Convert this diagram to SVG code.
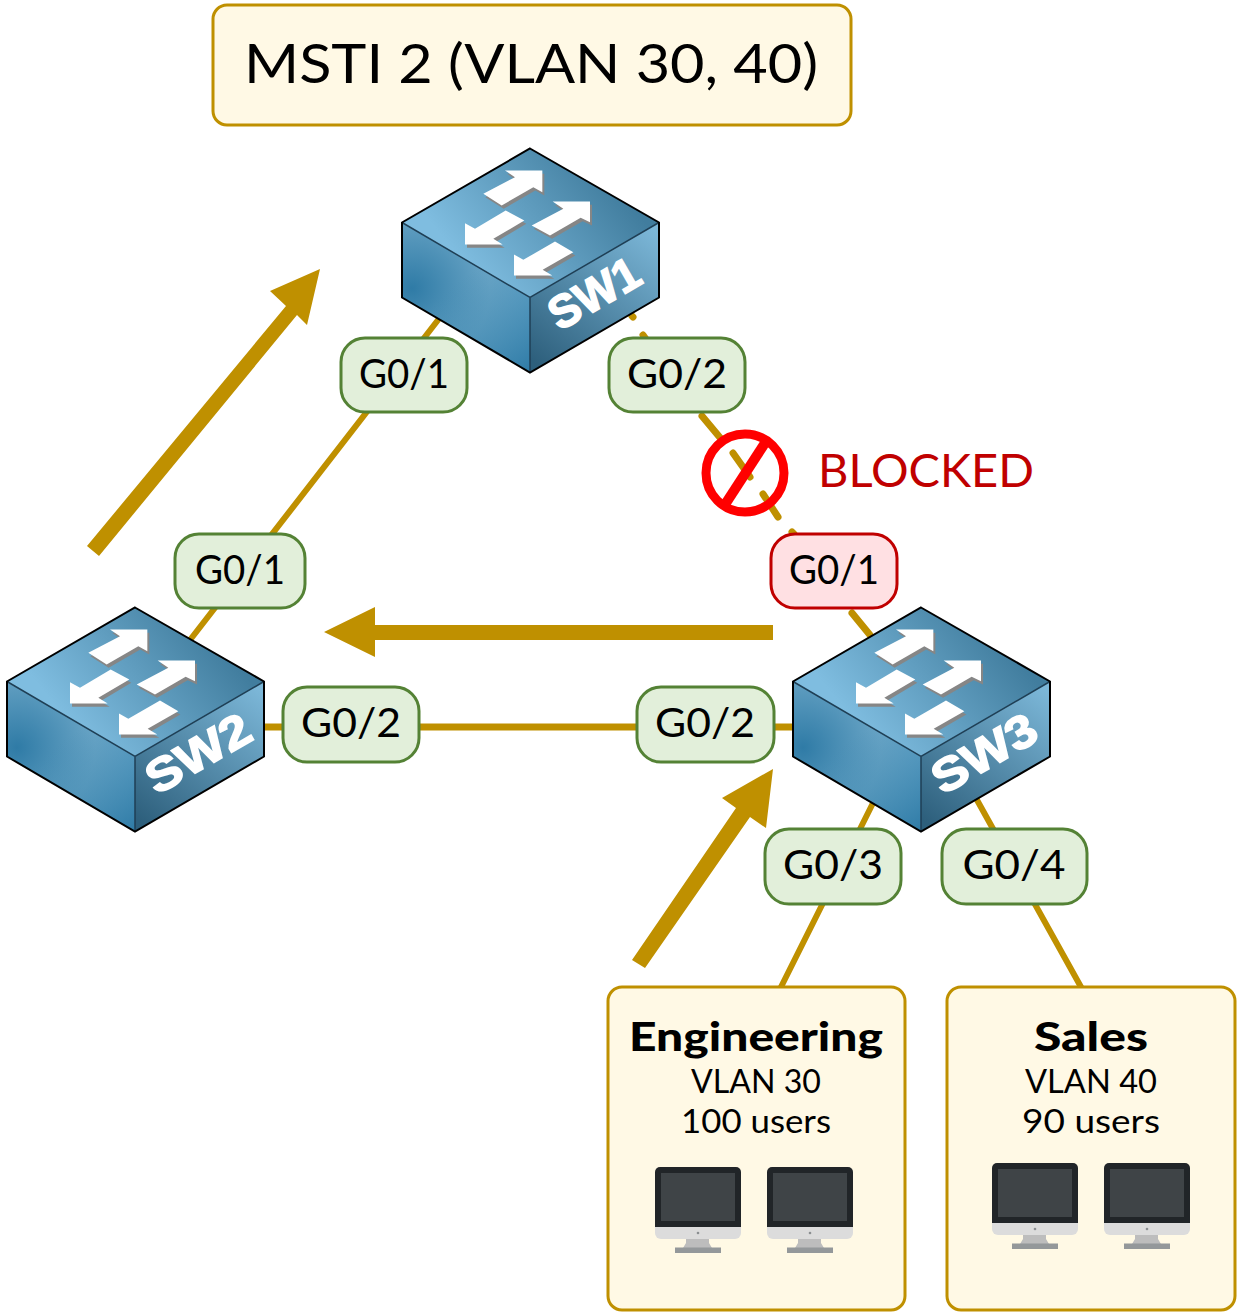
<svg xmlns="http://www.w3.org/2000/svg" xmlns:xlink="http://www.w3.org/1999/xlink" width="1238" height="1313" viewBox="0 0 1238 1313">
<style>
text{font-family:"Lato","Noto Sans",sans-serif;fill:#000}
.lbl{font-size:41px;text-anchor:middle}
.g{fill:#e2efda;stroke:#548235;stroke-width:3}
.r{fill:#ffe0e3;stroke:#c00000;stroke-width:3}
.box{fill:#fff9e5;stroke:#bf9000;stroke-width:3}
.ln{stroke:#bf9000;stroke-width:7;fill:none;stroke-linecap:round}
.big{fill:#bf9000;stroke:none}
.sw{font-size:46px;font-weight:900;fill:#fff;stroke:#fff;stroke-width:1.6;text-anchor:middle;font-family:"Liberation Sans",sans-serif}
.sub{font-size:32px;text-anchor:middle}
.hd{font-size:40px;font-weight:900;text-anchor:middle}
</style>
<defs>
<linearGradient id="top" gradientUnits="userSpaceOnUse" x1="70" y1="125" x2="200" y2="20"><stop offset="0" stop-color="#7fbde0"/><stop offset="1" stop-color="#417d9e"/></linearGradient>
<radialGradient id="left" gradientUnits="userSpaceOnUse" cx="10" cy="140" r="130"><stop offset="0" stop-color="#2f7ba6"/><stop offset=".6" stop-color="#6aa5c6"/><stop offset="1" stop-color="#6aa8cc"/></radialGradient>
<linearGradient id="leftb" gradientUnits="userSpaceOnUse" x1="60" y1="130" x2="128" y2="224"><stop offset="0" stop-color="#3f8ab2" stop-opacity="0"/><stop offset="1" stop-color="#2f7ba6"/></linearGradient>
<linearGradient id="right" gradientUnits="userSpaceOnUse" x1="250" y1="80" x2="140" y2="220"><stop offset="0" stop-color="#7cb7d8"/><stop offset="1" stop-color="#2d5f7c"/></linearGradient>
<g id="swi">
<path d="M128,0L257,74V149L128,224L0,149V74Z" fill="#4f8fb3"/>
<path d="M0,74L128,149V224L0,149Z" fill="url(#left)"/>
<path d="M0,74L128,149V224L0,149Z" fill="url(#leftb)"/>
<path d="M128,149L257,74V149L128,224Z" fill="url(#right)"/>
<path d="M128,0L257,74L128,149L0,74Z" fill="url(#top)"/>
<path d="M0,74L128,149L257,74M128,149V224" fill="none" stroke="#1f3f55" stroke-width="1.5"/>
<path d="M128,0L257,74V149L128,224L0,149V74Z" fill="none" stroke="#000" stroke-width="2"/>
<g transform="translate(-12,-8) scale(.33333)">
<g fill="#868686" transform="translate(6,10)">
<path d="M280,160L375,110L345,90H457V155L430,140L335,195Z"/>
<path d="M225,248L255,265L347,210L403,240L310,295L338,312H225Z"/>
<path d="M425,255L520,205L488,183H600V245L572,232L480,285Z"/>
<path d="M372,342L400,358L495,303L550,335L458,388L487,405H372Z"/>
</g>
<g fill="#fff">
<path d="M280,160L375,110L345,90H457V155L430,140L335,195Z"/>
<path d="M225,248L255,265L347,210L403,240L310,295L338,312H225Z"/>
<path d="M425,255L520,205L488,183H600V245L572,232L480,285Z"/>
<path d="M372,342L400,358L495,303L550,335L458,388L487,405H372Z"/>
</g>
</g>
</g>
<g id="mon">
<path d="M5,0H81a5,5 0 0 1 5,5V60H0V5a5,5 0 0 1 5,-5Z" fill="#212528"/>
<rect x="6" y="6" width="74" height="48" fill="#3f4447"/>
<path d="M0,60H86V66a6,6 0 0 1 -6,6H6a6,6 0 0 1 -6,-6Z" fill="#dcdcdc"/>
<circle cx="43" cy="66" r="1.3" fill="#8b8f91"/>
<path d="M31,72H54V76L57,81H28L31,76Z" fill="#bdbdbd"/>
<rect x="20" y="80.5" width="46" height="5.5" fill="#94989a"/>
</g>
</defs>
<rect width="1238" height="1313" fill="#fff"/>
<g id="connectors">
<path class="ln" style="stroke-width:6" d="M190,640L438,320"/>
<path class="ln" d="M632,316L633,317M643,335L648,342M702,416L722,440M733,453L750,477M763,494L778,517M792,532L794,534M852,613L870,635"/>
<path class="ln" d="M264,727H793"/>
<path class="ln" style="stroke-width:6" d="M873,803L781,987M977,800L1081,987"/>
<path id="arrow-sw2-sw1" class="big" d="M87,546L286,306L270,291L320,269L307,325L297,315L99,556Z"/>
<path id="arrow-sw3-sw2" class="big" d="M324,632L375,607V625H773V640H375V657Z"/>
<path id="arrow-host-sw3" class="big" d="M632,960L736,808L722,798L773,769L766,828L750,817L645,968Z"/>
</g>
<g id="title"><rect class="box" x="213" y="5" width="638" height="120" rx="14"/><text x="244" y="83" font-size="55" textLength="574" lengthAdjust="spacingAndGlyphs">MSTI 2 (VLAN 30, 40)</text></g>
<g id="SW1"><use xlink:href="#swi" href="#swi" x="402" y="148.5"/><text class="sw" transform="translate(602,307) rotate(-30)" textLength="98" lengthAdjust="spacingAndGlyphs">SW1</text></g>
<g id="SW2"><use xlink:href="#swi" href="#swi" x="7" y="607.5"/><text class="sw" transform="translate(206,767) rotate(-30)" textLength="114" lengthAdjust="spacingAndGlyphs">SW2</text></g>
<g id="SW3"><use xlink:href="#swi" href="#swi" x="793" y="607.5"/><text class="sw" transform="translate(992,767) rotate(-30)" textLength="114" lengthAdjust="spacingAndGlyphs">SW3</text></g>
<g id="if-sw1-g01"><rect class="g" x="341" y="338" width="126" height="74" rx="24"/><text class="lbl" x="404" y="388" textLength="90" lengthAdjust="spacingAndGlyphs">G0/1</text></g>
<g id="if-sw1-g02"><rect class="g" x="609" y="338" width="136" height="74" rx="24"/><text class="lbl" x="677" y="388" textLength="100" lengthAdjust="spacingAndGlyphs">G0/2</text></g>
<g id="if-sw2-g01"><rect class="g" x="175" y="534" width="130" height="74" rx="24"/><text class="lbl" x="240" y="584" textLength="90" lengthAdjust="spacingAndGlyphs">G0/1</text></g>
<g id="if-sw2-g02"><rect class="g" x="283" y="687" width="136" height="75" rx="24"/><text class="lbl" x="351" y="737" textLength="100" lengthAdjust="spacingAndGlyphs">G0/2</text></g>
<g id="if-sw3-g02"><rect class="g" x="637" y="687" width="137" height="75" rx="24"/><text class="lbl" x="705" y="737" textLength="100" lengthAdjust="spacingAndGlyphs">G0/2</text></g>
<g id="if-sw3-g01"><rect class="r" x="771" y="534" width="126" height="74" rx="24"/><text class="lbl" x="834" y="584" textLength="90" lengthAdjust="spacingAndGlyphs">G0/1</text></g>
<g id="if-sw3-g03"><rect class="g" x="765" y="829" width="136" height="75" rx="24"/><text class="lbl" x="833" y="879" textLength="100" lengthAdjust="spacingAndGlyphs">G0/3</text></g>
<g id="if-sw3-g04"><rect class="g" x="942" y="829" width="145" height="75" rx="24"/><text class="lbl" x="1014" y="879" textLength="103" lengthAdjust="spacingAndGlyphs">G0/4</text></g>
<g id="blocked">
<circle cx="745" cy="473" r="39" fill="none" stroke="#f00" stroke-width="9"/>
<path d="M726,503L765,443" stroke="#f00" stroke-width="10" fill="none"/>
<text x="818" y="487" font-size="47" style="fill:#c00000" textLength="216" lengthAdjust="spacingAndGlyphs">BLOCKED</text>
</g>
<g id="engineering"><rect class="box" x="608" y="987" width="297" height="323" rx="14"/>
<text class="hd" x="756" y="1051" textLength="254" lengthAdjust="spacingAndGlyphs">Engineering</text>
<text class="sub" x="756" y="1093" textLength="130" lengthAdjust="spacingAndGlyphs">VLAN 30</text>
<text class="sub" x="756" y="1133" textLength="150" lengthAdjust="spacingAndGlyphs">100 users</text>
<use xlink:href="#mon" href="#mon" x="655" y="1167"/><use xlink:href="#mon" href="#mon" x="767" y="1167"/></g>
<g id="sales"><rect class="box" x="947" y="987" width="288" height="323" rx="14"/>
<text class="hd" x="1091" y="1051" textLength="114" lengthAdjust="spacingAndGlyphs">Sales</text>
<text class="sub" x="1091" y="1093" textLength="132" lengthAdjust="spacingAndGlyphs">VLAN 40</text>
<text class="sub" x="1091" y="1133" textLength="138" lengthAdjust="spacingAndGlyphs">90 users</text>
<use xlink:href="#mon" href="#mon" x="992" y="1163"/><use xlink:href="#mon" href="#mon" x="1104" y="1163"/></g>
</svg>
